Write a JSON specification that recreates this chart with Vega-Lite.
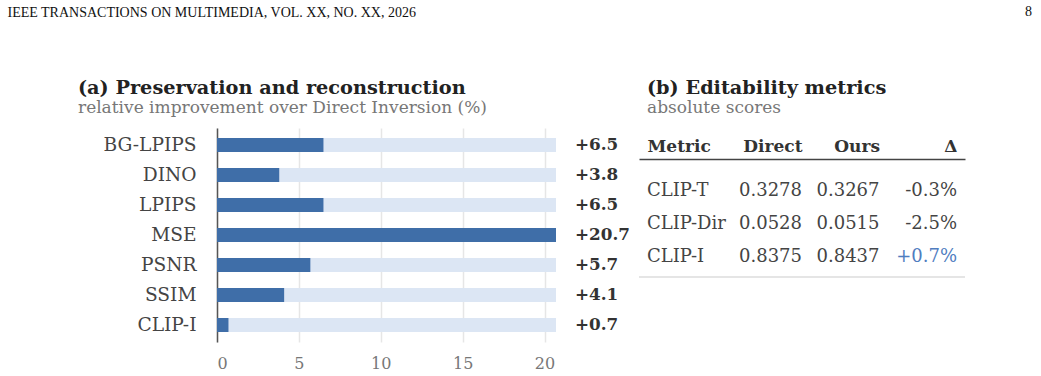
{
  "$schema": "https://vega.github.io/schema/vega-lite/v6.json",
  "padding": {"left": 7, "top": 0, "right": 5, "bottom": 5},
  "background": "white",
  "config": {
    "font": "DejaVu Serif",
    "view": {"stroke": null},
    "locale": {
      "number": {"decimal": ".", "thousands": ",", "grouping": [3], "currency": ["$", ""], "minus": "-"}
    },
    "title": {
      "fontSize": 19.3,
      "fontWeight": "bold",
      "color": "#222222",
      "subtitleFontSize": 17,
      "subtitleColor": "#777777",
      "subtitleFont": "DejaVu Serif",
      "subtitlePadding": 2,
      "anchor": "start",
      "frame": "group",
      "offset": 12
    }
  },
  "datasets": {
    "page": [
      {"journal": "IEEE TRANSACTIONS ON MULTIMEDIA, VOL. XX, NO. XX, 2026", "page": "8"}
    ],
    "preservation": [
      {"metric": "BG-LPIPS", "gain": 6.5},
      {"metric": "DINO", "gain": 3.8},
      {"metric": "LPIPS", "gain": 6.5},
      {"metric": "MSE", "gain": 20.7},
      {"metric": "PSNR", "gain": 5.7},
      {"metric": "SSIM", "gain": 4.1},
      {"metric": "CLIP-I", "gain": 0.7}
    ],
    "editability": [
      {"metric": "CLIP-T", "direct": 0.3278, "ours": 0.3267, "delta": -0.003},
      {"metric": "CLIP-Dir", "direct": 0.0528, "ours": 0.0515, "delta": -0.025},
      {"metric": "CLIP-I", "direct": 0.8375, "ours": 0.8437, "delta": 0.007}
    ]
  },
  "spacing": 54,
  "vconcat": [
    {
      "width": 815,
      "height": 24,
      "data": {"name": "page"},
      "mark": {"type": "text", "align": "right", "font": "Liberation Serif", "fontSize": 14, "color": "#111111"},
      "encoding": {
        "y": {
          "field": "journal",
          "type": "nominal",
          "axis": {
            "title": null,
            "domain": false,
            "ticks": false,
            "labelAlign": "left",
            "labelPadding": 210,
            "labelLimit": 0,
            "labelFont": "Liberation Serif",
            "labelFontSize": 14,
            "labelColor": "#111111"
          }
        },
        "x": {"datum": 1, "type": "quantitative", "scale": {"domain": [0, 1]}, "axis": null},
        "text": {"field": "page"}
      }
    },
    {
      "spacing": 8,
      "hconcat": [
        {
          "width": 339,
          "height": 214,
          "title": {
            "text": "(a) Preservation and reconstruction",
            "subtitle": "relative improvement over Direct Inversion (%)",
            "dx": -139
          },
          "data": {"name": "preservation"},
          "transform": [{"joinaggregate": [{"op": "max", "field": "gain", "as": "top"}]}],
          "encoding": {
            "y": {
              "field": "metric",
              "type": "nominal",
              "sort": null,
              "scale": {"paddingInner": 0.533, "paddingOuter": 0.333},
              "axis": {
                "title": null,
                "domain": true,
                "domainColor": "#555555",
                "domainWidth": 1.5,
                "ticks": false,
                "labelPadding": 21,
                "labelFontSize": 18.6,
                "labelColor": "#444444",
                "minExtent": 210,
                "grid": false
              }
            }
          },
          "layer": [
            {
              "mark": {"type": "bar", "color": "#dce6f4"},
              "encoding": {
                "x": {
                  "field": "top",
                  "type": "quantitative",
                  "scale": {"domain": [0, 20.7], "nice": false},
                  "axis": {
                    "title": null,
                    "values": [0, 5, 10, 15, 20],
                    "domain": false,
                    "ticks": false,
                    "grid": true,
                    "gridColor": "#e6e6e6",
                    "gridWidth": 1.5,
                    "labelPadding": 13,
                    "labelFontSize": 16,
                    "labelColor": "#777777"
                  }
                }
              }
            },
            {
              "mark": {"type": "bar", "color": "#3f6ea8"},
              "encoding": {"x": {"field": "gain", "type": "quantitative"}}
            },
            {
              "mark": {"type": "text", "align": "left", "dx": 19, "fontWeight": "bold", "fontSize": 16.8, "color": "#333333"},
              "encoding": {
                "x": {"field": "top", "type": "quantitative"},
                "text": {"field": "gain", "type": "quantitative", "format": "+.1f"}
              }
            }
          ]
        },
        {
          "width": 326,
          "height": 149,
          "title": {"text": "(b) Editability metrics", "subtitle": "absolute scores", "dx": 8},
          "data": {"name": "editability"},
          "encoding": {
            "y": {"field": "metric", "type": "nominal", "sort": null, "scale": {"type": "point", "range": [63, 129], "padding": 0}, "axis": null}
          },
          "layer": [
            {
              "mark": {"type": "text", "align": "left", "fontSize": 18, "color": "#444444"},
              "encoding": {
                "x": {
                  "datum": "Metric",
                  "type": "nominal",
                  "scale": {"type": "point", "domain": ["Metric", " ", "Direct", "Ours", "Δ"], "padding": 0.1032},
                  "axis": {
                    "orient": "top",
                    "offset": -31,
                    "title": null,
                    "values": ["Metric", "Direct", "Ours", "Δ"],
                    "domain": true,
                    "domainColor": "#444444",
                    "domainWidth": 1.5,
                    "ticks": false,
                    "labelFontSize": 17,
                    "labelFontWeight": "bold",
                    "labelColor": "#333333",
                    "labelPadding": 4,
                    "labelAngle": 0,
                    "labelAlign": {"condition": {"test": "datum.value === 'Metric'", "value": "left"}, "value": "right"}
                  }
                },
                "text": {"field": "metric"}
              }
            },
            {
              "mark": {"type": "text", "align": "right", "fontSize": 18, "color": "#444444"},
              "encoding": {
                "x": {"datum": "Direct", "type": "nominal"},
                "text": {"field": "direct", "type": "quantitative", "format": ".4f"}
              }
            },
            {
              "mark": {"type": "text", "align": "right", "fontSize": 18, "color": "#444444"},
              "encoding": {
                "x": {"datum": "Ours", "type": "nominal"},
                "text": {"field": "ours", "type": "quantitative", "format": ".4f"}
              }
            },
            {
              "mark": {"type": "text", "align": "right", "fontSize": 18},
              "encoding": {
                "x": {"datum": "Δ", "type": "nominal"},
                "text": {"field": "delta", "type": "quantitative", "format": "+.1%"},
                "color": {"condition": {"test": "datum.delta > 0", "value": "#4f7dbf"}, "value": "#444444"}
              }
            },
            {
              "data": {"values": [{}]},
              "mark": {"type": "rule", "color": "#dddddd", "strokeWidth": 1.5, "yOffset": 20},
              "encoding": {"y": {"datum": "CLIP-I", "type": "nominal"}}
            }
          ]
        }
      ]
    }
  ]
}
